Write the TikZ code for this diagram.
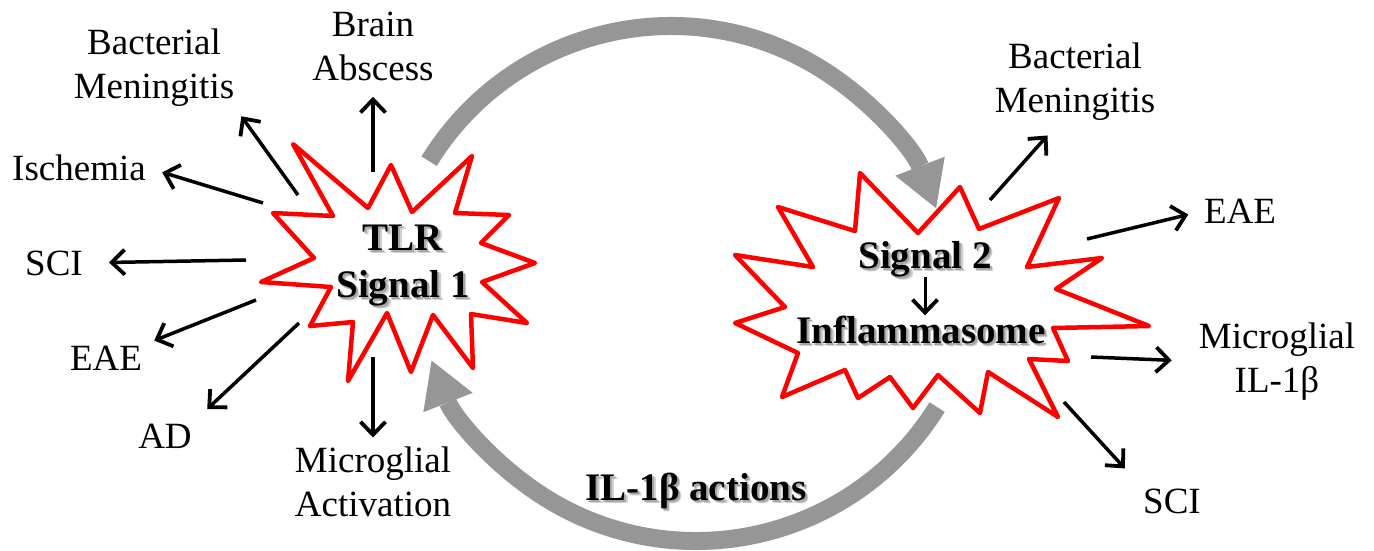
\documentclass[tikz,border=0pt]{standalone}
\usepackage{fontspec}
\setmainfont{Liberation Serif}
\usetikzlibrary{arrows.meta,calc}

\definecolor{burstred}{RGB}{255,0,0}
\definecolor{cyclegray}{RGB}{150,150,150}

% bold text with a soft drop shadow
\newcommand{\glowtext}[4][]{%
  \node[sig, #1, text=black!18] at ($(#2)+(3.5,3.5)$) {#4};
  \node[sig, #1, text=black!35] at ($(#2)+(2,2)$) {#4};
  \node[sig, #1] (#3) at (#2) {#4};}

\begin{document}
\begin{tikzpicture}[x=1pt, y=-1pt,
    burst/.style={draw=burstred, line width=4.5pt, fill=white, line join=round},
    lbl/.style={font=\fontsize{37}{44}\selectfont, inner sep=0pt, align=center},
    sig/.style={font=\bfseries\fontsize{39}{47}\selectfont, inner sep=0pt, align=center},
    effect/.style={-{Straight Barb[length=13pt,width=25pt,line width=3.8pt]}, line width=3.5pt},
    feedarrow/.style={draw=cyclegray, line width=18pt,
      -{Triangle[length=45pt,width=53pt,line width=0pt]}}]
  \useasboundingbox (0,0) rectangle (1374,550);

  % starbursts
  \draw[burst] (391,165) -- (412,212) -- (472,156) -- (455,213) -- (509,215)
    -- (481,243) -- (535,263) -- (482,282) -- (527,323) -- (471,314)
    -- (473,368) -- (433,315) -- (411,372) -- (387,313) -- (348,381)
    -- (353,322) -- (310,326) -- (331,287) -- (261,282) -- (314,258)
    -- (273,213) -- (333,216) -- (293,144) -- (368,208) -- cycle;
  \draw[burst] (735,255) -- (813,267) -- (778,207) -- (855,231) -- (860,173)
    -- (918,233) -- (960,187) -- (979,229) -- (1059,198) -- (1027,267)
    -- (1102,258) -- (1056,289) -- (1149,326) -- (1053,328) -- (1068,361)
    -- (1029,359) -- (1058,417) -- (988,372) -- (980,413) -- (938,375)
    -- (913,408) -- (890,377) -- (858,398) -- (845,370) -- (782,397)
    -- (798,353) -- (735,323) -- (785,307) -- cycle;

  % feedback loop
  \coordinate (topc) at (671,310);
  \coordinate (botc) at (696,257);
  \draw[feedarrow] ([shift={(-148.4:284)}]topc) arc[start angle=-148.4, end angle=-21, radius=284];
  \draw[feedarrow] ([shift={(31.9:284)}]botc) arc[start angle=31.9, end angle=158.6, radius=284];

  \glowtext[anchor=north]{403,224.5}{tlr}{TLR\\Signal 1}
  \glowtext[anchor=base]{925,268}{sigtwo}{Signal 2}
  \glowtext[anchor=base]{921,343}{inflam}{Inflammasome}
  \glowtext[anchor=base]{696,500}{ilact}{IL-1β actions}
  \draw[effect, line width=3pt] (sigtwo.south) -- (sigtwo.south |- inflam.north);

  % outcomes
  \node[lbl, anchor=north] (brainab) at (373,11.5) {Brain\\Abscess};
  \node[lbl, anchor=north] (bmleft) at (154,28.5) {Bacterial\\Meningitis};
  \node[lbl, anchor=base] (isch) at (79,180) {Ischemia};
  \node[lbl, anchor=base] (scileft) at (54,275) {SCI};
  \node[lbl, anchor=base] (eaeleft) at (106,370) {EAE};
  \node[lbl, anchor=base] (ad) at (165,448) {AD};
  \node[lbl, anchor=north] (mact) at (373,446.5) {Microglial\\Activation};
  \node[lbl, anchor=north] (bmright) at (1075,42.5) {Bacterial\\Meningitis};
  \node[lbl, anchor=base] (eaeright) at (1240,223) {EAE};
  \node[lbl, anchor=north] (mil) at (1277,322.5) {Microglial\\IL-1β};
  \node[lbl, anchor=base] (sciright) at (1172,513) {SCI};

  \coordinate (t1) at (373,172);
  \coordinate (t2) at (298,195);
  \coordinate (t3) at (263,203);
  \coordinate (t4) at (246,260);
  \coordinate (t5) at (256,300);
  \coordinate (t6) at (299,323);
  \coordinate (t7) at (373,357);
  \coordinate (s1) at (990,200);
  \coordinate (s2) at (1087,239);
  \coordinate (s3) at (1091,357);
  \coordinate (s4) at (1064,402);

  \draw[effect, shorten >=16pt] (t1) -- (brainab.south);
  \draw[effect, shorten >=12pt] (t2) -- (bmleft.south east);
  \draw[effect, shorten >=17pt] (t3) -- (isch.east);
  \draw[effect, shorten >=26pt] (t4) -- (scileft.east);
  \draw[effect, shorten >=13pt] (t5) -- (eaeleft.north east);
  \draw[effect, shorten >=21pt] (t6) -- (ad.north east);
  \draw[effect, shorten >=9pt] (t7) -- (mact.north);
  \draw[effect, shorten >=20pt] (s1) -- (bmright.250);
  \draw[effect, shorten >=16pt] (s2) -- (eaeright.west);
  \draw[effect, shorten >=27pt] (s3) -- (mil.west);
  \draw[effect, shorten >=27pt] (s4) -- (sciright.north west);
\end{tikzpicture}
\end{document}
